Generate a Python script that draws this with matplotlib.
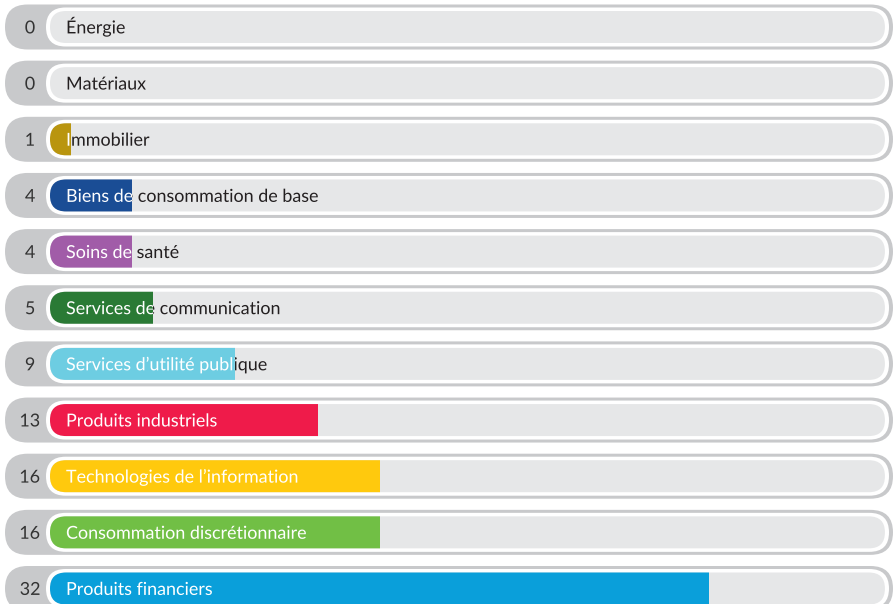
import matplotlib
matplotlib.use("Agg")
import matplotlib.pyplot as plt
from matplotlib.patches import FancyBboxPatch, Rectangle, PathPatch
from matplotlib.textpath import TextPath
from matplotlib.font_manager import FontProperties
from matplotlib.transforms import Affine2D

# Sector weights (count of holdings per sector)
sectors = [
    "Énergie",
    "Matériaux",
    "Immobilier",
    "Biens de consommation de base",
    "Soins de santé",
    "Services de communication",
    "Services d’utilité publique",
    "Produits industriels",
    "Technologies de l’information",
    "Consommation discrétionnaire",
    "Produits financiers",
]
weights = [0, 0, 1, 4, 4, 5, 9, 13, 16, 16, 32]
bar_colors = [
    "#7f7f7f", "#7f7f7f", "#b9950f", "#1a4d95", "#a15ca8", "#2a7a35",
    "#6dcde2", "#ef1b4a", "#ffc90d", "#71bf45", "#0a9fda",
]

# Layout (pixels at 100 dpi)
PX_PER_UNIT = 20.6      # horizontal pixels per unit of weight
ROW_PX = 56.15          # vertical pitch between rows
FIG_W, FIG_H = 894, 604
X0_PX = 50              # where weight 0 sits
Y0_PX = 27              # centre of the first row
TRACK_END = 40.53       # right end of the light track, in weight units
FONT_SIZE = 12.9

OUTER_GREY = "#c8c9cb"
TRACK_GREY = "#e6e7e8"
TEXT_DARK = "#231f20"

fig = plt.figure(figsize=(FIG_W / 100, FIG_H / 100), dpi=100)
ax = fig.add_axes([0, 0, 1, 1])
ax.set_xlim(-X0_PX / PX_PER_UNIT, (FIG_W - X0_PX) / PX_PER_UNIT)
ax.set_ylim((FIG_H - Y0_PX) / ROW_PX, -Y0_PX / ROW_PX)
ax.axis("off")

ASPECT = PX_PER_UNIT / ROW_PX
PROP = FontProperties(family="Lato")
PT2PX = fig.dpi / 72.0


def px_x(p):
    return (p - X0_PX) / PX_PER_UNIT


def pill(x0, x1, yc, h_px, color, z):
    h = h_px / ROW_PX
    r = (h_px / 2) / PX_PER_UNIT
    p = FancyBboxPatch(
        (x0, yc - h / 2), x1 - x0, h,
        boxstyle=f"round,pad=0,rounding_size={r}",
        mutation_aspect=ASPECT,
        facecolor=color, edgecolor="none", zorder=z,
    )
    ax.add_patch(p)
    return p


CAP_H = TextPath((0, 0), "H", size=FONT_SIZE, prop=PROP).get_extents().height


def outline_text(s, x, y, color, ha="left", clip=None, z=5):
    """Text drawn as a filled glyph outline so it can be clipped to a region."""
    tp = TextPath((0, 0), s, size=FONT_SIZE, prop=PROP)
    ext = tp.get_extents()
    dx = 0 if ha == "left" else -(ext.x0 + ext.x1) / 2
    X, Y = ax.transData.transform((x, y))
    tr = Affine2D().translate(dx, -CAP_H / 2).scale(PT2PX).translate(X, Y)
    patch = PathPatch(tp, transform=tr, facecolor=color, edgecolor="none",
                      lw=0, zorder=z)
    ax.add_artist(patch)
    if clip is not None:
        patch.set_clip_path(clip)
    return patch


for i, (name, val, col) in enumerate(zip(sectors, weights, bar_colors)):
    yc = i
    # grey outer capsule holding the count
    pill(px_x(5), px_x(893), yc, 45, OUTER_GREY, 1)
    # white ring
    pill(px_x(46), px_x(889), yc, 39, "white", 2)
    # light track
    pill(0, TRACK_END, yc, 32, TRACK_GREY, 3)
    h = 32 / ROW_PX
    if val > 0:
        bar = pill(0, TRACK_END, yc, 32, col, 4)
        bar.set_clip_path(Rectangle((0, yc - h), val, 2 * h,
                                    transform=ax.transData))
    # count
    outline_text(str(val), px_x(30), yc, "#333333", ha="center", z=6)
    # label: white inside the bar, dark outside it
    lx = px_x(66)
    outline_text(name, lx, yc, TEXT_DARK,
                 clip=Rectangle((val, yc - h), TRACK_END + 5, 2 * h,
                                transform=ax.transData))
    if val > 0:
        outline_text(name, lx, yc, "white",
                     clip=Rectangle((-1, yc - h), val + 1, 2 * h,
                                    transform=ax.transData))

fig.savefig("out.png", dpi=100)
